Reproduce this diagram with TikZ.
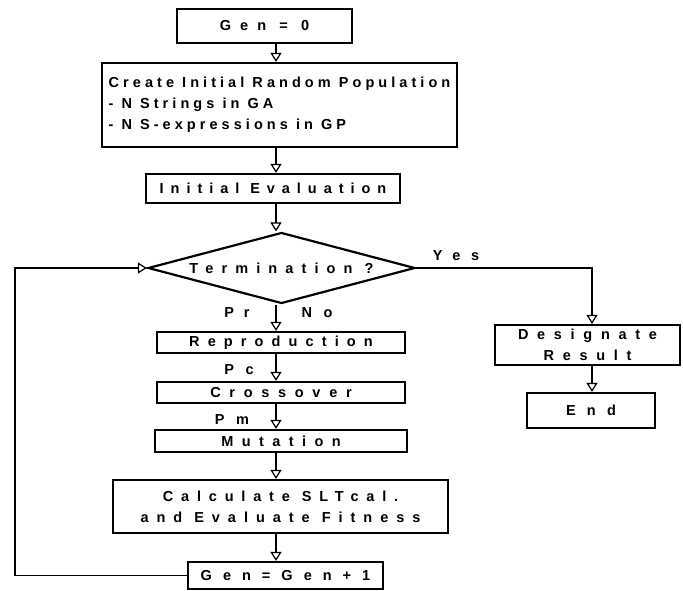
\documentclass[tikz,border=0pt]{standalone}
\usepackage{fontspec}
\setmainfont{Liberation Sans}
\usetikzlibrary{arrows.meta,shapes.geometric}
\newcommand{\lsp}[1]{\addfontfeatures{LetterSpace=#1}}
\begin{document}
\begin{tikzpicture}[x=1pt,y=-1pt,
  txt/.style={font=\fontsize{14.5}{21}\selectfont\bfseries},
  box/.style={txt,draw,line width=2.2pt,inner sep=0pt,align=center},
  arr/.style={line width=1.8pt,-{Triangle[open,length=9pt,width=11pt,line width=1.2pt]}},
  lbl/.style={txt,inner sep=0pt}]
\useasboundingbox (0,0) rectangle (683,591);
\fill[white] (0,0) rectangle (683,591);
\coordinate (ax) at (276,0);
\coordinate (lx) at (15,0);
\coordinate (yx) at (592,0);
\node[box,minimum width=175pt,minimum height=34pt] (gen0) at (264.5,26) {\lsp{63}Gen = 0};
\node[box,minimum width=355pt,minimum height=84pt,align=left] (create) at (279.5,105)
  {\lsp{28}Create Initial Random Population\\\lsp{28}- N Strings in GA\\\lsp{28}- N S-expressions in GP};
\node[box,minimum width=254pt,minimum height=29pt] (init) at (273,188.5) {\lsp{48}Initial Evaluation};
\node[box,shape=diamond,aspect=3.76,minimum width=267pt,minimum height=71pt] (dia) at (281.5,268) {\lsp{56}Termination ?};
\node[box,minimum width=248pt,minimum height=21pt] (repro) at (281,342.5) {\lsp{56}Reproduction};
\node[box,minimum width=248pt,minimum height=21pt] (cross) at (281,392.5) {\lsp{60}Crossover};
\node[box,minimum width=252pt,minimum height=22pt] (mut) at (281,441) {\lsp{58}Mutation};
\node[box,minimum width=335pt,minimum height=53pt] (calc) at (280.5,506.5)
  {\lsp{54}Calculate SLTcal.\\\lsp{55}and Evaluate Fitness};
\node[box,minimum width=195pt,minimum height=27pt] (gen1) at (285.5,575.5) {\lsp{76}Gen=Gen+1};
\node[box,minimum width=185pt,minimum height=40pt] (desig) at (587.5,345)
  {\fontsize{14.5}{19}\selectfont\lsp{60}Designate\\\lsp{60}Result};
\node[box,minimum width=128pt,minimum height=35pt] (end) at (591,410.5) {\lsp{78}End};
\node[lbl] (lyes) at (456,256) {\lsp{73}Yes};
\node[lbl] (lpr) at (237,313) {\lsp{67}Pr};
\node[lbl] (lno) at (317,313) {\lsp{80}No};
\node[lbl] (lpc) at (239,370) {\lsp{80}Pc};
\node[lbl] (lpm) at (232,420) {\lsp{80}Pm};
\draw[arr] (gen0.south -| ax) -- (create.north -| ax);
\draw[arr] (create.south -| ax) -- (init.north -| ax);
\draw[arr] (init.south -| ax) -- (dia.north -| ax);
\draw[arr] (dia.south -| ax) -- (repro.north -| ax);
\draw[arr] (repro.south -| ax) -- (cross.north -| ax);
\draw[arr] (cross.south -| ax) -- (mut.north -| ax);
\draw[arr] (mut.south -| ax) -- (calc.north -| ax);
\draw[arr] (calc.south -| ax) -- (gen1.north -| ax);
\draw[arr] (gen1.west) -- (gen1.west -| lx) -- (dia.west -| lx) -- (dia.west);
\draw[arr] (dia.east) -- (dia.east -| yx) -- (desig.north -| yx);
\draw[arr] (desig.south -| yx) -- (end.north -| yx);
\end{tikzpicture}
\end{document}
